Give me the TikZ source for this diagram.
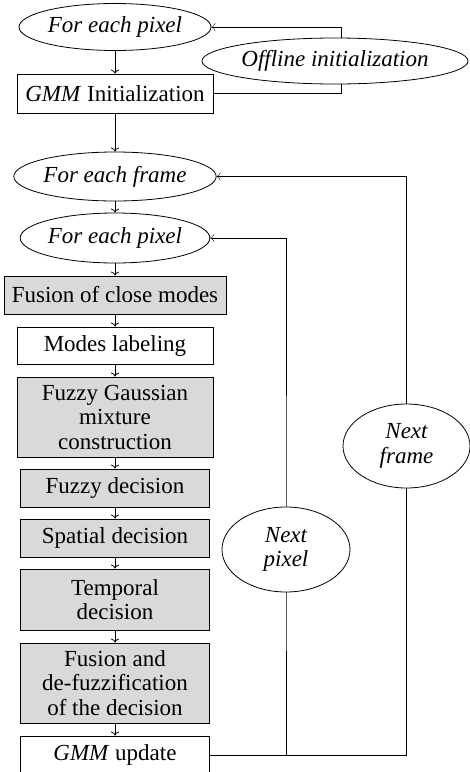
\documentclass[tikz,border=0pt]{standalone}
\usepackage{fontspec}
\setmainfont{Liberation Serif}
\usetikzlibrary{shapes.geometric,arrows.meta,backgrounds}
\begin{document}
\begin{tikzpicture}[x=1pt,y=-1pt,
  line width=0.8pt,
  txt/.style={font=\fontsize{23}{24.5}\selectfont},
  box/.style={draw, rectangle, inner sep=0pt, align=center, txt},
  gbox/.style={box, fill=black!15},
  ell/.style={draw, ellipse, inner sep=0pt, fill=white, align=center,
              font=\fontsize{23}{24.5}\selectfont\itshape},
  arr/.style={-{To[length=4pt,width=8pt]}}]
\useasboundingbox (0,0) rectangle (470,772);

\node[ell, minimum width=192pt, minimum height=47pt] (p1) at (115,27) {For each pixel};
\node[box, minimum width=196pt, minimum height=39pt] (gi) at (115,93.5) {\textit{GMM} Initialization};
\node[ell, minimum width=266pt, minimum height=46pt] (off) at (335,61) {Offline initialization};

\node[ell, minimum width=197pt, minimum height=49pt] (fr) at (115,176.5) {For each frame};
\node[ell, minimum width=189pt, minimum height=50pt] (p2) at (115,238) {For each pixel};
\node[gbox, minimum width=222pt, minimum height=38pt] (fc) at (115,295) {Fusion of close modes};
\node[box, minimum width=196pt, minimum height=37pt] (ml) at (115,345.5) {Modes labeling};
\node[gbox, minimum width=196pt, minimum height=80pt] (fg) at (115,417) {Fuzzy Gaussian\\mixture\\construction};
\node[gbox, minimum width=189pt, minimum height=38pt] (fd) at (115,488) {Fuzzy decision};
\node[gbox, minimum width=189pt, minimum height=38pt] (sd) at (115,538) {Spatial decision};
\node[gbox, minimum width=189pt, minimum height=61pt] (td) at (115,599.5) {Temporal\\decision};
\node[gbox, minimum width=189pt, minimum height=80pt] (fu) at (115,683) {Fusion and\\de-fuzzification\\of the decision};
\node[box, minimum width=189pt, minimum height=38pt] (gu) at (115,755) {\textit{GMM} update};

\node[ell, minimum width=128pt, minimum height=85pt] (np) at (286,549.5) {Next\\pixel};
\node[ell, minimum width=127pt, minimum height=84pt] (nf) at (406.5,446) {Next\\frame};

\coordinate (lp) at (341,0);

\begin{scope}[on background layer]
  \draw[arr] (gi.east) -| (lp |- p1.east) -- (p1.east);
  \draw[arr] (gu.east) -| (nf.center) |- (fr.east);
  \draw[arr] (np.center |- gu.east) -- (np.center) |- (p2.east);
\end{scope}

\foreach \a/\b in {p1/gi, gi/fr, fr/p2, p2/fc, fc/ml, ml/fg, fg/fd, fd/sd, sd/td, td/fu, fu/gu}
  \draw[arr] (\a.south) -- (\a.south |- \b.north);
\end{tikzpicture}
\end{document}
